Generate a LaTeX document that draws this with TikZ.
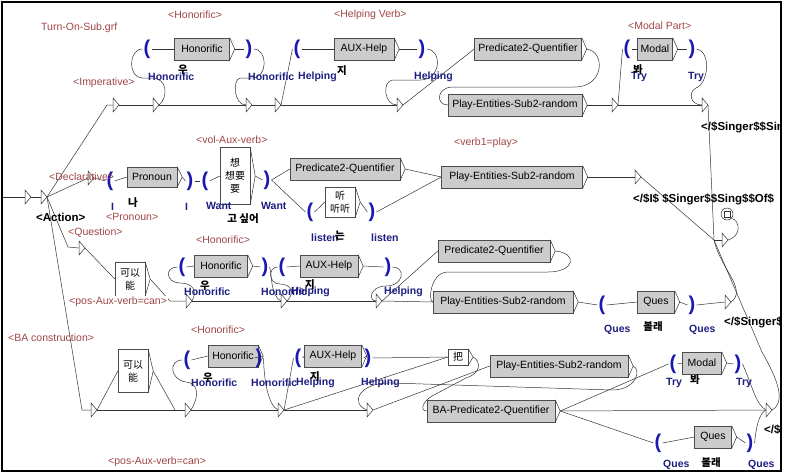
\documentclass[tikz,border=0pt]{standalone}
\usepackage{fontspec}
\setmainfont{Liberation Sans}
\newfontfamily\krfont{Noto Sans CJK KR}
\newfontfamily\zhfont{Noto Sans CJK SC}

\definecolor{tagred}{RGB}{160,70,70}
\definecolor{outblue}{RGB}{30,30,130}
\definecolor{parblue}{RGB}{25,25,175}

\begin{document}
\begin{tikzpicture}[x=1pt, y=-1pt,
    subbox/.style={draw=black!70, fill=black!20, inner xsep=3pt, inner ysep=0pt, minimum height=22pt, font=\fontsize{10.5}{12}\selectfont},
    lexbox/.style={draw=black!70, fill=white, inner sep=1pt, align=center, font=\zhfont\fontsize{10}{13}\selectfont},
    paren/.style={text=parblue, inner sep=1pt, font=\bfseries\fontsize{20}{20}\selectfont},
    taglbl/.style={text=tagred, inner sep=1pt, anchor=west, font=\fontsize{10.5}{12}\selectfont},
    outlbl/.style={text=outblue, inner sep=1pt, anchor=west, font=\bfseries\fontsize{10.5}{12}\selectfont},
    kolbl/.style={inner sep=0pt, font=\krfont\bfseries\fontsize{10.5}{11}\selectfont},
    varlbl/.style={inner sep=1pt, anchor=west, font=\bfseries\fontsize{11.5}{13}\selectfont},
    conn/.style={black!80, line width=0.5pt},
    emptytri/.style={draw=black!80, fill=white, line width=0.5pt}]

    \useasboundingbox (0,0) rectangle (785,475);
    \draw[line width=2pt] (2,2) rectangle (781,471);

    \begin{scope}
    \clip (3,3) rectangle (780,470);

    % Empty states (drawn as small triangles)
    \def\trilist{tS1/25/197, tS2/41/197, tD/88/178,
        tA1/113/105, tA2/153/105, tA3/246/105, tA4/275/105, tA5/397/105, tA6/612/105, tA7/702/105,
        tB7/635/177, tQ/79/248, tC1/186/301, tC2/281/301, tC3/376/301, tC4/725/302,
        tF1/91/410, tF2/185/410, tF3/278/410, tF4/367/410, tF5/766/410, tE/722/240}
    \foreach \n/\x/\y in \trilist {
        \coordinate (\n) at (\x,\y);
        \coordinate (\n-o) at (\x+6,\y);
    }

    % Helper points
    \coordinate (start) at (3,197);
    \coordinate (cI) at (107,105);
    \coordinate (cQ) at (68,247);
    \coordinate (cB) at (82,410);
    \coordinate (cC) at (170,301);
    \coordinate (cD) at (175,410);
    \coordinate (cE) at (714,240);

    % Imperative row
    \node[subbox, minimum width=55pt] (bA1) at (202,49) {Honorific};
    \node[subbox, minimum width=60pt] (bA2) at (364,49) {AUX-Help};
    \node[subbox, minimum width=107pt] (bA3) at (528,49) {Predicate2-Quentifier};
    \node[subbox, minimum width=134pt] (bA4) at (515,105) {Play-Entities-Sub2-random};
    \node[subbox, minimum width=35pt] (bA5) at (655,49) {Modal};
    \node[paren] (pA1) at (147,49) {(};
    \node[paren] (pA2) at (249,49) {)};
    \node[paren] (pA3) at (297,49) {(};
    \node[paren] (pA4) at (422,49) {)};
    \node[paren] (pA5) at (627,49) {(};
    \node[paren] (pA6) at (692,49) {)};

    % Declarative row
    \node[subbox, minimum width=50pt, minimum height=20pt] (bB1) at (152,177) {Pronoun};
    \node[lexbox, minimum width=30pt, minimum height=57pt] (bB2) at (235,176) {想\\想要\\要};
    \node[subbox, minimum width=110pt] (bB3) at (345,169) {Predicate2-Quentifier};
    \node[lexbox, minimum width=30pt, minimum height=30pt] (bB4) at (340,202) {听\\听听};
    \node[subbox, minimum width=141pt] (bB5) at (512,177) {Play-Entities-Sub2-random};
    \node[paren] (pB1) at (110,181) {(};
    \node[paren] (pB2) at (190,181) {)};
    \node[paren] (pB3) at (205,181) {(};
    \node[paren] (pB4) at (267,180) {)};
    \node[paren] (pB5) at (310,212) {(};
    \node[paren] (pB6) at (372,212) {)};

    % Question row
    \node[lexbox, minimum width=30pt, minimum height=34pt] (bC1) at (130,279) {可以\\能};
    \node[subbox, minimum width=53pt] (bC2) at (221,266) {Honorific};
    \node[subbox, minimum width=58pt] (bC3) at (329,266) {AUX-Help};
    \node[subbox, minimum width=112pt] (bC4) at (494,251) {Predicate2-Quentifier};
    \node[subbox, minimum width=140pt] (bC5) at (503,302) {Play-Entities-Sub2-random};
    \node[subbox, minimum width=37pt] (bC6) at (656,302) {Ques};
    \node[paren] (pC1) at (182,267) {(};
    \node[paren] (pC2) at (265,267) {)};
    \node[paren] (pC3) at (282,267) {(};
    \node[paren] (pC4) at (388,267) {)};
    \node[paren] (pC5) at (602,305) {(};
    \node[paren] (pC6) at (692,305) {)};

    % BA construction row
    \node[lexbox, minimum width=30pt, minimum height=43pt] (bD1) at (133,371) {可以\\能};
    \node[subbox, minimum width=50pt] (bD2) at (233,356) {Honorific};
    \node[subbox, minimum width=57pt] (bD3) at (333,356) {AUX-Help};
    \node[lexbox, minimum width=20pt, minimum height=16pt] (bD4) at (458,357) {把};
    \node[subbox, minimum width=138pt] (bD5) at (559,366) {Play-Entities-Sub2-random};
    \node[subbox, minimum width=128pt] (bD6) at (491,411) {BA-Predicate2-Quentifier};
    \node[subbox, minimum width=39pt] (bD7) at (702,363) {Modal};
    \node[subbox, minimum width=37pt] (bD8) at (713,437) {Ques};
    \node[paren] (pD1) at (187,360) {(};
    \node[paren] (pD2) at (259,358) {)};
    \node[paren] (pD3) at (298,358) {(};
    \node[paren] (pD4) at (368,358) {)};
    \node[paren] (pD5) at (673,364) {(};
    \node[paren] (pD6) at (738,364) {)};
    \node[paren] (pD7) at (658,443) {(};
    \node[paren] (pD8) at (750,443) {)};

    % Box outputs (right chevron)
    \foreach \b in {bA1,bA2,bA3,bA4,bA5,bB1,bB2,bB3,bB4,bB5,bC1,bC2,bC3,bC4,bC5,bC6,bD1,bD2,bD3,bD4,bD5,bD6,bD7,bD8} {
        \coordinate (\b-o) at ([xshift=5pt]\b.east);
        \draw[conn] (\b.north east) -- (\b-o) -- (\b.south east);
    }

    % Final state
    \node[draw, circle, fill=white, inner sep=0pt, minimum size=12pt] (fin) at (727,214) {};
    \draw[conn] ([shift={(-3pt,-3pt)}]fin.center) rectangle ([shift={(3pt,3pt)}]fin.center);

    % Entry
    \draw[conn] (start) -- (tS1);
    \draw[conn] (tS1-o) -- (tS2);
    \draw[conn] (tS2-o) -- (cI) -- (tA1);
    \draw[conn] (tS2-o) -- (tD);
    \draw[conn] (tS2-o) -- (cQ) -- (tQ);
    \draw[conn] (tS2-o) -- (cB) -- (tF1);

    % Imperative transitions
    \draw[conn] (tA1-o) -- (tA2);
    \draw[conn] (tA2-o) -- (tA3);
    \draw[conn] (tA3-o) -- (tA4);
    \draw[conn] (tA4-o) -- (tA5);
    \draw[conn] (tA2-o) .. controls (168,98) and (168,78) .. (152,78) -- (142,78) .. controls (128,78) and (128,49) .. (pA1.west);
    \draw[conn] (pA1.east) -- (bA1.west);
    \draw[conn] (bA1-o) -- (pA2.west);
    \draw[conn] (pA2.east) .. controls (268,49) and (268,78) .. (252,78) -- (240,78) .. controls (232,80) and (234,105) .. (tA3);
    \draw[conn] (tA4-o) -- (pA3.west);
    \draw[conn] (pA3.east) -- (bA2.west);
    \draw[conn] (bA2-o) -- (pA4.west);
    \draw[conn] (pA4.east) .. controls (442,49) and (442,80) .. (420,80) -- (392,80) .. controls (382,82) and (384,105) .. (tA5);
    \draw[conn] (tA5-o) -- (bA3.west);
    \draw[conn] (bA3-o) .. controls (606,52) and (604,87) .. (575,87) -- (452,87) .. controls (436,88) and (436,105) .. (bA4.west);
    \draw[conn] (bA4-o) -- (tA6);
    \draw[conn] (tA6-o) -- (tA7);
    \draw[conn] (tA6-o) -- (pA5.west);
    \draw[conn] (pA5.east) -- (bA5.west);
    \draw[conn] (bA5-o) -- (pA6.west);
    \draw[conn] (pA6.east) .. controls (712,52) and (708,84) .. (696,88) .. controls (688,92) and (690,105) .. (tA7);
    \draw[conn] (tA7-o) -- (cE);

    % Declarative transitions
    \draw[conn] (tD-o) -- (pB1.west);
    \draw[conn] (pB1.east) -- (bB1.west);
    \draw[conn] (bB1-o) -- (pB2.west);
    \draw[conn] (pB2.east) -- (pB3.west);
    \draw[conn] (pB3.east) -- (bB2.west);
    \draw[conn] (bB2-o) -- (pB4.west);
    \draw[conn] (pB4.east) -- (bB3.west);
    \draw[conn] (pB4.east) -- (pB5.west);
    \draw[conn] (pB5.east) -- (bB4.west);
    \draw[conn] (bB4-o) -- (pB6.west);
    \draw[conn] (pB6.east) -- (bB5.west);
    \draw[conn] (bB3-o) -- (bB5.west);
    \draw[conn] (bB5-o) -- (tB7);
    \draw[conn] (tB7-o) -- (cE);

    % Question transitions
    \draw[conn] (tQ-o) -- (bC1.west);
    \draw[conn] (bC1-o) -- (cC) -- (tC1);
    \draw[conn] (tC1-o) -- (tC2);
    \draw[conn] (tC2-o) -- (tC3);
    \draw[conn] (tC3-o) -- (bC5.west);
    \draw[conn] (tC1-o) .. controls (198,290) and (192,283) .. (180,283) .. controls (166,283) and (164,267) .. (pC1.west);
    \draw[conn] (pC1.east) -- (bC2.west);
    \draw[conn] (bC2-o) -- (pC2.west);
    \draw[conn] (pC2.east) .. controls (272,272) and (270,296) .. (tC2);
    \draw[conn] (tC2-o) .. controls (296,292) and (290,284) .. (280,284) .. controls (268,284) and (268,267) .. (pC3.west);
    \draw[conn] (pC3.east) -- (bC3.west);
    \draw[conn] (bC3-o) -- (pC4.west);
    \draw[conn] (pC4.east) .. controls (406,267) and (404,286) .. (386,286) .. controls (370,286) and (368,301) .. (tC3);
    \draw[conn] (tC3-o) -- (bC4.west);
    \draw[conn] (bC4-o) .. controls (578,253) and (575,272) .. (548,272) -- (448,272) .. controls (430,272) and (428,302) .. (bC5.west);
    \draw[conn] (bC5-o) -- (pC5.west);
    \draw[conn] (pC5.east) -- (bC6.west);
    \draw[conn] (bC6-o) -- (pC6.west);
    \draw[conn] (pC6.east) -- (tC4);
    \draw[conn] (tC4-o) .. controls (748,290) and (720,268) .. (cE);

    % BA construction transitions
    \draw[conn] (tF1-o) -- (tF2);
    \draw[conn] (tF1-o) -- (bD1.west);
    \draw[conn] (bD1-o) -- (cD);
    \draw[conn] (tF2-o) -- (tF3);
    \draw[conn] (tF3-o) -- (tF4);
    \draw[conn] (tF2-o) .. controls (200,395) and (198,383) .. (186,382) .. controls (170,380) and (168,360) .. (pD1.west);
    \draw[conn] (pD1.east) -- (bD2.west);
    \draw[conn] (bD2-o) -- (pD2.west);
    \draw[conn] (pD2.east) .. controls (264,380) and (268,405) .. (tF3);
    \draw[conn] (tF3-o) -- (pD3.west);
    \draw[conn] (pD3.east) -- (bD3.west);
    \draw[conn] (bD3-o) -- (pD4.west);
    \draw[conn] (pD4.east) -- (bD4.west);
    \draw[conn] (tF3-o) -- (bD4.west);
    \draw[conn] (tF4-o) -- (bD5.west);
    \draw[conn] (bD4-o) .. controls (482,362) and (480,374) .. (466,378) -- (432,396) .. controls (422,402) and (420,411) .. (bD6.west);
    \draw[conn] (bD5-o) .. controls (642,370) and (636,390) .. (612,390) -- (392,383) .. controls (358,382) and (350,404) .. (tF4);
    \draw[conn] (bD6-o) -- (tF5);
    \draw[conn] (bD6-o) -- (pD5.west);
    \draw[conn] (pD5.east) -- (bD7.west);
    \draw[conn] (bD7-o) -- (pD6.west);
    \draw[conn] (bD6-o) -- (pD7.west);
    \draw[conn] (pD7.east) -- (bD8.west);
    \draw[conn] (bD8-o) -- (pD8.west);
    \draw[conn] (pD6.east) .. controls (752,385) and (756,405) .. (tF5);
    \draw[conn] (pD8.east) .. controls (756,430) and (758,414) .. (tF5);
    \draw[conn] (tF5-o) .. controls (786,402) and (778,380) .. (762,352) -- (cE);

    % Exit
    \draw[conn] (cE) -- (tE);
    \draw[conn] (tE-o) .. controls (742,236) and (740,220) .. (fin.south east);

    \foreach \n/\x/\y in \trilist
        \draw[emptytri] (\x,\y-7) -- (\x+6,\y) -- (\x,\y+7) -- cycle;

    % Tags
    \node[taglbl] (l1) at (40,28) {Turn-On-Sub.grf};
    \node[taglbl] (l2) at (167,15) {<Honorific>};
    \node[taglbl] (l3) at (333,15) {<Helping Verb>};
    \node[taglbl] (l4) at (72,83) {<Imperative>};
    \node[taglbl] (l5) at (627,26) {<Modal Part>};
    \node[taglbl] (l6) at (48,177) {<Declarative>};
    \node[taglbl] (l7) at (105,217) {<Pronoun>};
    \node[taglbl] (l8) at (195,140) {<vol-Aux-verb>};
    \node[taglbl] (l9) at (453,143) {<verb1=play>};
    \node[taglbl] (l10) at (67,233) {<Question>};
    \node[taglbl] (l11) at (195,240) {<Honorific>};
    \node[taglbl, fill=white] (l12) at (68,302) {<pos-Aux-verb=can>};
    \node[taglbl] (l13) at (7,338) {<BA construction>};
    \node[taglbl] (l14) at (190,330) {<Honorific>};
    \node[taglbl] (l15) at (107,462) {<pos-Aux-verb=can>};

    % Outputs
    \foreach \x/\y/\t in {147/77/Honorific, 247/77/Honorific, 297/77/Helping, 413/77/Helping, 630/77/Try, 687/77/Try,
        110/207/I, 184/207/I, 205/206/Want, 260/206/Want, 310/238/listen, 370/238/listen,
        183/292/Honorific, 260/292/Honorific, 290/292/Helping, 383/292/Helping, 603/330/Ques, 688/330/Ques,
        190/383/Honorific, 250/383/Honorific, 295/383/Helping, 360/383/Helping, 665/383/Try, 735/383/Try, 662/465/Ques, 747/465/Ques}
        \node[outlbl] at (\x,\y) {\t};

    % Korean outputs
    \foreach \x/\y/\t in {183/70/우, 342/71/지, 638/70/봐, 133/203/나, 243/219/고 싶어, 340/236/는,
        205/286/우, 310/285/지, 653/327/볼래, 208/378/우, 315/377/지, 695/380/봐, 711/463/볼래}
        \node[kolbl] at (\x,\y) {\t};

    % Variable outputs
    \node[varlbl] (act) at (35,217) {<Action>};
    \node[varlbl] (o1) at (700,127) {</\$Singer\$\$Sin};
    \node[varlbl] (o2) at (632,199) {</\$I\$ \$Singer\$\$Sing\$\$Of\$};
    \node[varlbl] (o3) at (723,322) {</\$Singer\$};
    \node[varlbl] (o4) at (763,430) {</\$};

    \end{scope}

\end{tikzpicture}
\end{document}
